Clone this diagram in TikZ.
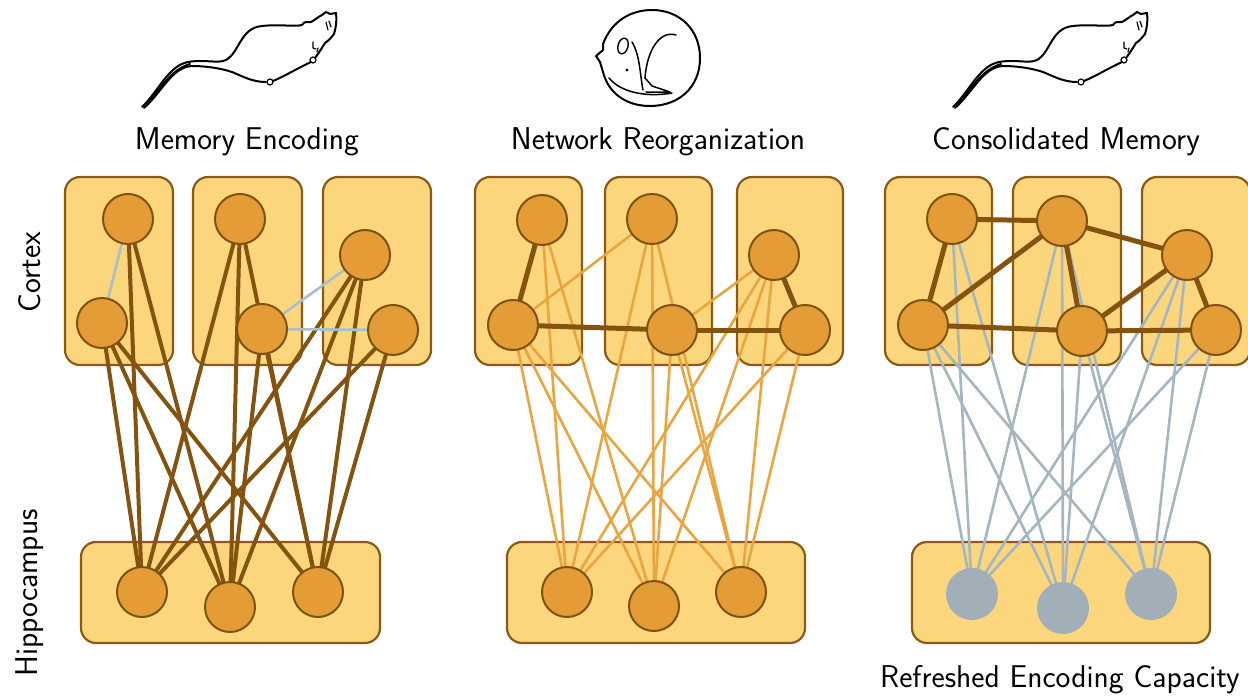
\documentclass[tikz,border=0pt]{standalone}
\usepackage{fontspec}
\definecolor{boxfill}{RGB}{251,214,124}
\definecolor{boxline}{RGB}{139,90,20}
\definecolor{cellfill}{RGB}{227,156,54}
\definecolor{cellline}{RGB}{128,82,18}
\definecolor{strongbrown}{RGB}{133,83,16}
\definecolor{weakorange}{RGB}{232,165,64}
\definecolor{fadedgray}{RGB}{164,182,192}
\definecolor{restgray}{RGB}{163,175,184}
\definecolor{paleblue}{RGB}{168,192,204}
\pgfdeclarelayer{boxlayer}
\pgfdeclarelayer{edgelayer}
\pgfsetlayers{boxlayer,edgelayer,main}
\tikzset{
  region/.style={draw=boxline, fill=boxfill, line width=2.2pt, rounded corners=15pt, inner sep=0pt},
  cell/.style={circle, draw=cellline, fill=cellfill, line width=2pt, minimum size=50pt, inner sep=0pt},
  restcell/.style={circle, fill=restgray, minimum size=52pt, inner sep=0pt},
  label/.style={font=\fontsize{31.5}{36}\selectfont\sffamily, inner sep=0pt},
  encedge/.style={draw=strongbrown, line width=4pt},
  reorgedge/.style={draw=weakorange, line width=2.6pt},
  consedge/.style={draw=fadedgray, line width=2.6pt},
  faintlink/.style={draw=paleblue, line width=2.6pt},
  stronglink/.style={draw=strongbrown, line width=5pt},
  sketch/.style={line width=2pt, line cap=round, line join=round},
  rat/.pic={
    % running rat outline
    \draw[sketch] (142,107) .. controls (158,92) and (168,66) .. (188,62)
      .. controls (205,59) and (218,64) .. (226,60)
      .. controls (240,52) and (240,28) .. (262,26)
      .. controls (280,24) and (294,27) .. (302,25)
      .. controls (304,21) and (308,22) .. (311,22)
      .. controls (315,20) and (318,17) .. (322,15)
      -- (326,12) -- (330,14) -- (336,13)
      .. controls (337,20) and (336,28) .. (334,34)
      .. controls (331,38) and (328,41) .. (325,43)
      .. controls (322,48) and (318,54) .. (315,58);
    \draw[sketch] (311,62) .. controls (298,68) and (285,76) .. (273,81);
    \draw[sketch] (266,82) .. controls (252,82) and (242,76) .. (232,72)
      .. controls (220,68) and (205,66) .. (192,66)
      .. controls (172,67) and (162,92) .. (144,108);
    \draw[sketch] (146,104) .. controls (160,90) and (170,70) .. (190,64);
    \draw[sketch, line width=1.2pt] (313,60) circle (3);
    \draw[sketch, line width=1.2pt] (270,82) circle (3);
    \draw[sketch, line width=1.2pt] (326,22) -- (328,30) (329,21) -- (331,27);
    \draw[sketch, line width=1.2pt] (313,42) -- (313,48) -- (316,49);
    \draw[sketch, line width=1.2pt] (318,48) -- (317,52);
  }
}
\begin{document}
\begin{tikzpicture}[x=1pt,y=-1pt]
\useasboundingbox (0,0) rectangle (1248,696);

% ---------- animals ----------
\pic at (0,0) {rat};
\pic at (811,0) {rat};
% curled-up sleeping rat
\draw[sketch] (603,44) .. controls (612,20) and (632,10) .. (652,10)
  .. controls (680,10) and (700,30) .. (700,58)
  .. controls (700,88) and (678,106) .. (650,106)
  .. controls (625,106) and (608,92) .. (603,72)
  -- (600,62) -- (596,56) -- (603,50) -- cycle;
\draw[sketch, line width=1.4pt, rotate around={-15:(623,46)}] (623,46) ellipse [x radius=5, y radius=8];
\fill (627,70) circle (1.6);
\draw[sketch, line width=1.5pt] (632,42) .. controls (640,55) and (640,75) .. (643,90);
\draw[sketch, line width=1.5pt] (676,35) .. controls (660,30) and (647,50) .. (645,78);
\draw[sketch, line width=1.5pt] (645,78) -- (652,86) -- (670,92) -- (646,92);
\draw[sketch, line width=1.5pt] (609,78) .. controls (622,94) and (650,97) .. (672,93);

% ---------- captions ----------
\node[label] (t1) at (247,142) {Memory Encoding};
\node[label] (t2) at (658,142) {Network Reorganization};
\node[label] (t3) at (1066,142) {Consolidated Memory};
\node[label] (t4) at (1060,680) {Refreshed Encoding Capacity};
\node[label, rotate=90] (tc) at (30,272) {Cortex};
\node[label, rotate=90] (th) at (30,593) {Hippocampus};

% ---------- regions ----------
\begin{pgfonlayer}{boxlayer}
\node[region, minimum width=108pt, minimum height=188pt] (p1ca) at (119,271) {};
\node[region, minimum width=109pt, minimum height=188pt] (p1cb) at (247.5,271) {};
\node[region, minimum width=108pt, minimum height=188pt] (p1cc) at (377,271) {};
\node[region, minimum width=299pt, minimum height=101pt] (p1hp) at (230.5,592.5) {};
\node[region, minimum width=107pt, minimum height=188pt] (p2ca) at (528.5,271) {};
\node[region, minimum width=107pt, minimum height=188pt] (p2cb) at (658.5,271) {};
\node[region, minimum width=106pt, minimum height=188pt] (p2cc) at (790,271) {};
\node[region, minimum width=298pt, minimum height=101pt] (p2hp) at (656,592.5) {};
\node[region, minimum width=107pt, minimum height=188pt] (p3ca) at (938.5,271) {};
\node[region, minimum width=108pt, minimum height=188pt] (p3cb) at (1067,271) {};
\node[region, minimum width=108pt, minimum height=188pt] (p3cc) at (1196,271) {};
\node[region, minimum width=298pt, minimum height=101pt] (p3hp) at (1061,592.5) {};
\end{pgfonlayer}

% ---------- cells ----------
% panel 1
\node[cell] (p1a1) at (128,219) {};
\node[cell] (p1a2) at (102,323) {};
\node[cell] (p1b1) at (240,219) {};
\node[cell] (p1b2) at (262,329) {};
\node[cell] (p1c1) at (365,255) {};
\node[cell] (p1c2) at (393,330) {};
\node[cell] (p1h1) at (142,592) {};
\node[cell] (p1h2) at (230,607) {};
\node[cell] (p1h3) at (318,592) {};
% panel 2
\node[cell] (p2a1) at (542,220) {};
\node[cell] (p2a2) at (513,325) {};
\node[cell] (p2b1) at (652,219) {};
\node[cell] (p2b2) at (672,330) {};
\node[cell] (p2c1) at (774,255) {};
\node[cell] (p2c2) at (805,330) {};
\node[cell] (p2h1) at (567,592) {};
\node[cell] (p2h2) at (654,606) {};
\node[cell] (p2h3) at (741,592) {};
% panel 3
\node[cell] (p3a1) at (952,219) {};
\node[cell] (p3a2) at (923,325) {};
\node[cell] (p3b1) at (1062,221) {};
\node[cell] (p3b2) at (1082,331) {};
\node[cell] (p3c1) at (1187,255) {};
\node[cell] (p3c2) at (1216,330) {};
\node[restcell] (p3h1) at (972,594) {};
\node[restcell] (p3h2) at (1063,608) {};
\node[restcell] (p3h3) at (1151,594) {};

% ---------- connections ----------
\begin{pgfonlayer}{edgelayer}
\foreach \p/\sty in {1/encedge,2/reorgedge,3/consedge}{
  \foreach \u/\v in {a1/h1,a1/h2,a2/h1,a2/h2,a2/h3,b1/h1,b1/h2,b1/h3,
                     b2/h2,b2/h3,c1/h1,c1/h2,c1/h3,c2/h1,c2/h3}{
    \draw[\sty] (p\p\u.center) -- (p\p\v.center);
  }
}
% cortical links
\foreach \u/\v in {a1/a2,b2/c1,b2/c2}{
  \draw[faintlink] (p1\u.center) -- (p1\v.center);
}
\foreach \u/\v in {a2/b1,b2/c1}{
  \draw[reorgedge] (p2\u.center) -- (p2\v.center);
}
\foreach \u/\v in {a1/a2,a2/b2,b2/c2,c1/c2}{
  \draw[stronglink] (p2\u.center) -- (p2\v.center);
}
\foreach \u/\v in {a1/b1,a1/a2,a2/b1,a2/b2,b1/b2,b1/c1,b2/c1,b2/c2,c1/c2}{
  \draw[stronglink] (p3\u.center) -- (p3\v.center);
}
\end{pgfonlayer}
\end{tikzpicture}
\end{document}
